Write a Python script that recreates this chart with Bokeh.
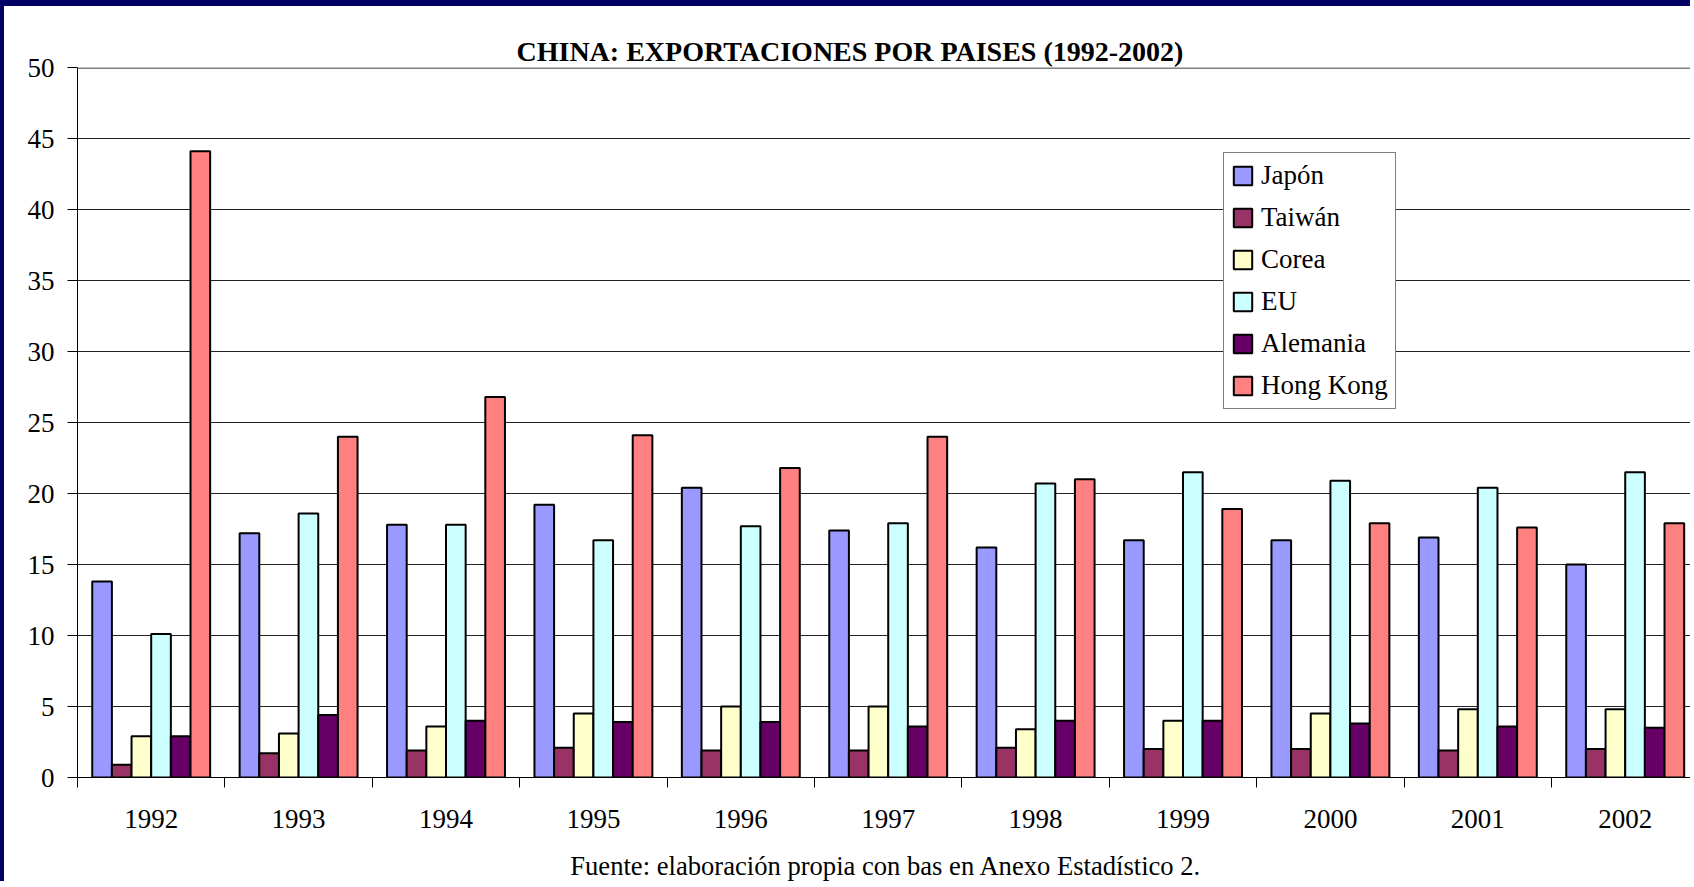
from bokeh.plotting import figure
from bokeh.models import (ColumnDataSource, Range1d, FixedTicker, LinearAxis, Span)
from bokeh.embed import file_html
from bokeh.resources import INLINE

years = ["1992", "1993", "1994", "1995", "1996", "1997", "1998", "1999", "2000", "2001", "2002"]
series_names = ["Japón", "Taiwán", "Corea", "EU", "Alemania", "Hong Kong"]
japon = [13.8, 17.2, 17.8, 19.2, 20.4, 17.4, 16.2, 16.7, 16.7, 16.9, 15.0]
taiwan = [0.9, 1.7, 1.9, 2.1, 1.9, 1.9, 2.1, 2.0, 2.0, 1.9, 2.0]
corea = [2.9, 3.1, 3.6, 4.5, 5.0, 5.0, 3.4, 4.0, 4.5, 4.8, 4.8]
eu = [10.1, 18.6, 17.8, 16.7, 17.7, 17.9, 20.7, 21.5, 20.9, 20.4, 21.5]
alemania = [2.9, 4.4, 4.0, 3.9, 3.9, 3.6, 4.0, 4.0, 3.8, 3.6, 3.5]
hongkong = [44.1, 24.0, 26.8, 24.1, 21.8, 24.0, 21.0, 18.9, 17.9, 17.6, 17.9]
colors = ["#9999FF", "#993366", "#FFFFCC", "#CCFFFF", "#660066", "#FF8080"]
y_ticks = [0, 5, 10, 15, 20, 25, 30, 35, 40, 45, 50]
title_text = "CHINA: EXPORTACIONES POR PAISES (1992-2002)"
source_text = "Fuente: elaboración propia con bas en Anexo Estadístico 2."

all_series = [japon, taiwan, corea, eu, alemania, hongkong]
n = len(years)
FONT = "Liberation Serif"

p = figure(width=1690, height=881, output_backend="svg", toolbar_location=None,
           x_range=Range1d(0, 10.97), y_range=Range1d(0, 50),
           min_border_left=73, min_border_right=0, min_border_top=61,
           min_border_bottom=110, x_axis_location=None)
p.styles = {"border-top": "6px solid #000066", "border-left": "4px solid #000066"}
p.background_fill_color = "white"
p.border_fill_color = "white"
p.outline_line_color = None

bar_w = 1.0 / 7.5
for i, (name, vals, col) in enumerate(zip(series_names, all_series, colors)):
    xs = [k + 0.1 + (i + 0.5) * bar_w for k in range(n)]
    src = ColumnDataSource(dict(x=xs, top=vals))
    p.vbar(x="x", top="top", width=bar_w, bottom=0, source=src,
           fill_color=col, line_color="black", line_width=2,
           legend_label=name)

# x axis: labels at category centres, ticks at boundaries
centers = [k + 0.5 for k in range(n)]
xaxis = LinearAxis(ticker=FixedTicker(ticks=centers, minor_ticks=list(range(n))))
xaxis.major_label_overrides = {c: y for c, y in zip(centers, years)}
xaxis.major_tick_out = 0
xaxis.major_tick_in = 0
xaxis.minor_tick_out = 10
xaxis.minor_tick_in = 0
xaxis.minor_tick_line_color = "black"
xaxis.axis_line_color = "black"
xaxis.major_label_standoff = 22
xaxis.major_label_text_font = FONT
xaxis.major_label_text_font_size = "27px"
xaxis.major_label_text_color = "black"
xaxis.axis_label = source_text
xaxis.axis_label_standoff = 20
xaxis.axis_label_text_font = FONT
xaxis.axis_label_text_font_size = "26.6px"
xaxis.axis_label_text_font_style = "normal"
xaxis.axis_label_text_color = "black"
p.add_layout(xaxis, "below")

yaxis = p.yaxis[0]
yaxis.ticker = FixedTicker(ticks=y_ticks)
yaxis.major_tick_out = 10
yaxis.major_tick_in = 0
yaxis.minor_tick_line_color = None
yaxis.axis_line_color = "black"
yaxis.major_tick_line_color = "black"
yaxis.major_label_standoff = 13
yaxis.major_label_text_font = FONT
yaxis.major_label_text_font_size = "27px"
yaxis.major_label_text_color = "black"

p.xgrid.grid_line_color = None
p.ygrid.ticker = FixedTicker(ticks=y_ticks)
p.ygrid.grid_line_color = "#222222"
p.ygrid.grid_line_width = 1
p.add_layout(Span(location=50, dimension="width", line_color="#808080", line_width=3))

p.title.text = title_text
p.title.text_font = FONT
p.title.text_font_style = "bold"
p.title.text_font_size = "28px"
p.title.text_color = "black"
p.title.align = "left"
p.title.offset = 439
p.title.standoff = 2

lg = p.legend[0]
lg.location = (1146, 368)
lg.border_line_color = "black"
lg.border_line_width = 1
lg.background_fill_color = "white"
lg.background_fill_alpha = 1
lg.label_text_font = FONT
lg.label_text_font_size = "27px"
lg.label_text_color = "black"
lg.glyph_width = 23
lg.glyph_height = 23
lg.label_height = 30
lg.spacing = 11
lg.padding = 7
lg.margin = 0
lg.label_standoff = 7

open("out.html", "w").write(file_html(p, INLINE))
